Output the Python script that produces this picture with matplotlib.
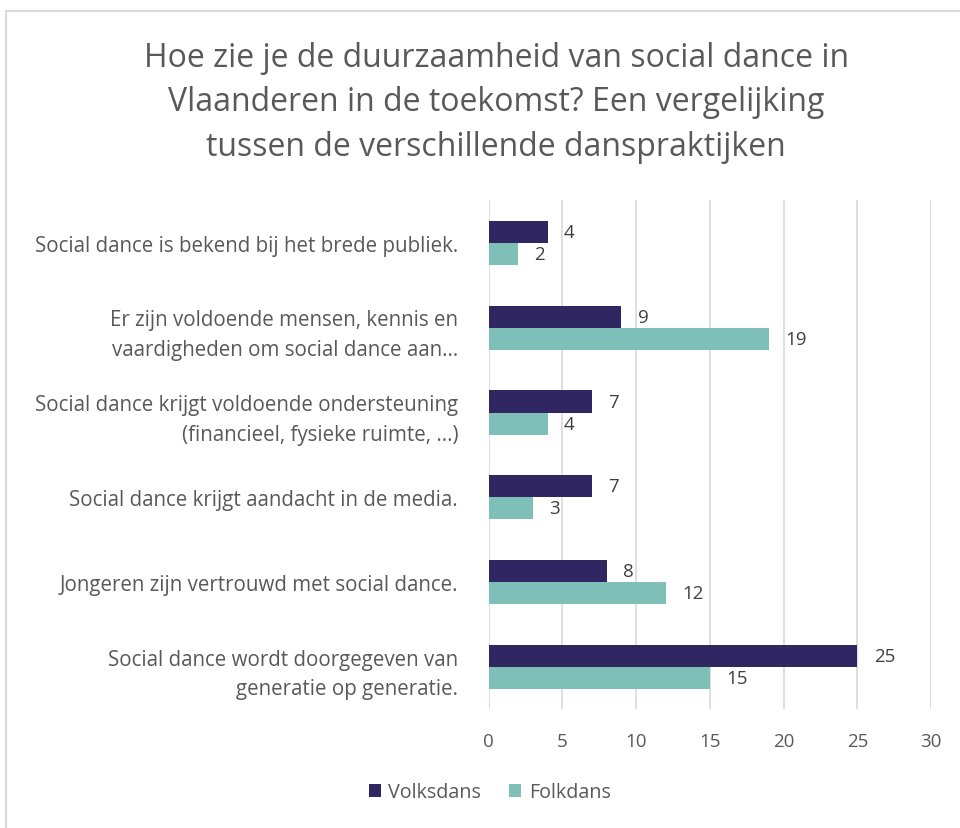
import numpy as np
import matplotlib.pyplot as plt
from matplotlib.patches import Rectangle

categories = [
    "Social dance is bekend bij het brede publiek.",
    "Er zijn voldoende mensen, kennis en\nvaardigheden om social dance aan...",
    "Social dance krijgt voldoende ondersteuning\n(financieel, fysieke ruimte, ...)",
    "Social dance krijgt aandacht in de media.",
    "Jongeren zijn vertrouwd met social dance.",
    "Social dance wordt doorgegeven van\ngeneratie op generatie.",
]
volksdans = [4, 9, 7, 7, 8, 25]
folkdans = [2, 19, 4, 3, 12, 15]
xticks = [0, 5, 10, 15, 20, 25, 30]

title = ("Hoe zie je de duurzaamheid van social dance in\n"
         "Vlaanderen in de toekomst? Een vergelijking\n"
         "tussen de verschillende danspraktijken")

dark = "#302662"
teal = "#7EBFB8"
grey = "#595959"

plt.rcParams['font.family'] = ['Open Sans', 'DejaVu Sans']

fig = plt.figure(figsize=(9.6, 8.29), dpi=100)
ax = fig.add_axes([0.509, 0.143, 0.461, 0.614])

# kader rond de grafiek
fig.patches.append(Rectangle((6 / 960, -0.1), 1.2, 1 - 12 / 829 + 0.1,
                             transform=fig.transFigure, fill=False,
                             edgecolor="#D9D9D9", linewidth=1.5))

y = np.arange(len(categories))
h = 0.26
ax.barh(y - h / 2, volksdans, height=h, color=dark, label="Volksdans", zorder=3)
ax.barh(y + h / 2, folkdans, height=h, color=teal, label="Folkdans", zorder=3)

for i in range(len(categories)):
    ax.text(volksdans[i] + 1.1, y[i] - h / 2, str(volksdans[i]), va="center",
            ha="left", fontsize=13.5, color="#404040")
    ax.text(folkdans[i] + 1.1, y[i] + h / 2, str(folkdans[i]), va="center",
            ha="left", fontsize=13.5, color="#404040")

ax.set_ylim(len(categories) - 0.5, -0.5)
ax.set_xlim(0, 30)
ax.set_xticks(xticks)
ax.set_yticks(y)
ax.set_yticklabels(categories, fontsize=14.8, color=grey, linespacing=1.55)
ax.tick_params(axis="x", labelsize=13.5, colors=grey, length=0, pad=16)
ax.tick_params(axis="y", length=0, pad=22)
ax.grid(axis="x", color="#D9D9D9", linewidth=1.2, zorder=0)
for s in ax.spines.values():
    s.set_visible(False)

fig.text(0.517, 0.876, title, ha="center", va="center", fontsize=23,
         color=grey, linespacing=1.45)

fig.legend(loc="center", bbox_to_anchor=(0.51, 0.043), ncol=2, frameon=False,
           fontsize=14.2, labelcolor=grey, handlelength=0.6, handleheight=0.6,
           columnspacing=1.4, handletextpad=0.4)

fig.savefig("out.png", dpi=100)
